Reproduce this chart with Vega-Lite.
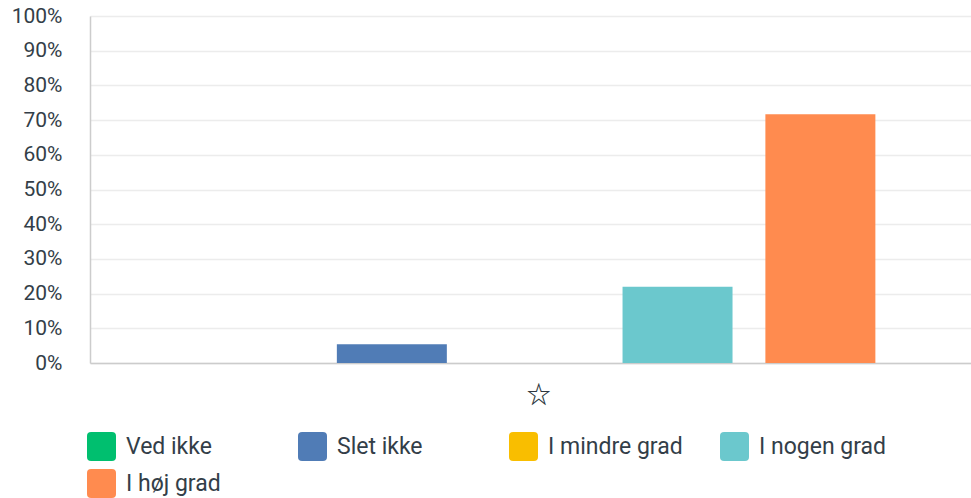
{
  "$schema": "https://vega.github.io/schema/vega-lite/v6.json",
  "width": 881,
  "height": 347,
  "autosize": "none",
  "padding": {"left": 90, "top": 16, "right": 0, "bottom": 135},
  "background": "white",
  "config": {"view": {"stroke": null}},
  "data": {"values": [
    {"q": "☆", "svar": "Ved ikke", "andel": 0},
    {"q": "☆", "svar": "Slet ikke", "andel": 0.054},
    {"q": "☆", "svar": "I mindre grad", "andel": 0},
    {"q": "☆", "svar": "I nogen grad", "andel": 0.22},
    {"q": "☆", "svar": "I høj grad", "andel": 0.717}
  ]},
  "mark": {"type": "bar"},
  "encoding": {
    "x": {
      "field": "q", "type": "nominal",
      "scale": {"paddingInner": 0, "paddingOuter": 0.1465, "align": 0.521},
      "axis": {"title": null, "labelAngle": 0, "ticks": false, "labelFont": "Noto Sans CJK SC", "labelFontSize": 24, "labelColor": "#2d3740", "labelFontWeight": "bold", "labelPadding": 20, "labelOffset": 4, "domainColor": "#cccccc", "domainWidth": 1.5, "grid": false}
    },
    "xOffset": {
      "field": "svar", "type": "nominal",
      "sort": ["Ved ikke", "Slet ikke", "I mindre grad", "I nogen grad", "I høj grad"],
      "scale": {"paddingInner": 0.23, "paddingOuter": 0}
    },
    "y": {
      "field": "andel", "type": "quantitative",
      "scale": {"domain": [0, 1], "nice": false},
      "axis": {"title": null, "format": ".0%", "values": [0, 0.1, 0.2, 0.3, 0.4, 0.5, 0.6, 0.7, 0.8, 0.9, 1], "ticks": false, "labelFont": "Roboto", "labelFontSize": 21, "labelColor": "#333e48", "labelPadding": 28, "domainColor": "#cccccc", "domainWidth": 1.5, "gridColor": "#ececec", "gridWidth": 1.5}
    },
    "color": {
      "field": "svar", "type": "nominal",
      "scale": {
        "domain": ["Ved ikke", "Slet ikke", "I mindre grad", "I nogen grad", "I høj grad"],
        "range": ["#00bf6f", "#507cb6", "#f9be00", "#6bc8cd", "#ff8b4f"]
      },
      "legend": {
        "title": null, "orient": "none", "legendX": -3, "legendY": 416,
        "direction": "horizontal", "columns": 4, "gridAlign": "all",
        "columnPadding": 37, "rowPadding": 8, "padding": 0,
        "symbolType": "M-1,-0.72 Q-1,-1 -0.72,-1 L0.72,-1 Q1,-1 1,-0.72 L1,0.72 Q1,1 0.72,1 L-0.72,1 Q-1,1 -1,0.72 Z",
        "symbolSize": 841, "symbolStrokeWidth": 0, "symbolOpacity": 1,
        "labelFont": "Roboto", "labelFontSize": 23, "labelColor": "#333e48", "labelOffset": 10, "labelLimit": 300
      }
    }
  }
}
